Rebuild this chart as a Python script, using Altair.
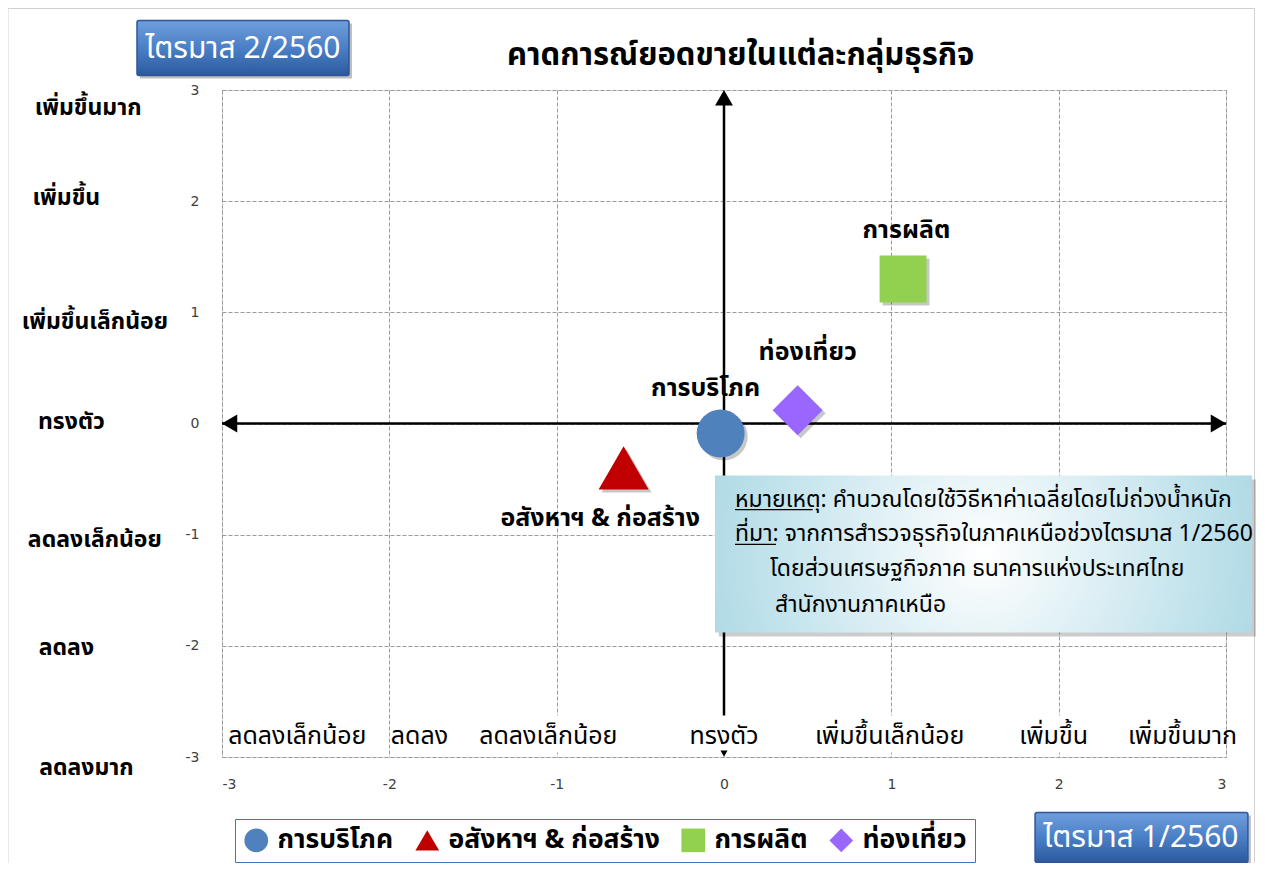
import altair as alt
import pandas as pd

FONT = "Tahoma, Noto Sans Thai, Loma, Garuda, Noto Sans, sans-serif"

# ---- data series ----
series = ["การบริโภค", "อสังหาฯ & ก่อสร้าง", "การผลิต", "ท่องเที่ยว"]
x_vals = [-0.02, -0.6, 1.07, 0.44]
y_vals = [-0.09, -0.4, 1.3, 0.12]
colors = ["#4f81bd", "#c00000", "#92d050", "#9966ff"]
shapes = ["circle", "triangle-up", "square", "diamond"]
sizes = [2300, 2500, 2200, 2500]
label_x = [-0.11, -0.74, 1.09, 0.50]
label_y = [0.315, -0.85, 1.74, 0.64]

tick_values = [-3, -2, -1, 0, 1, 2, 3]

ycat_text = ["เพิ่มขึ้นมาก", "เพิ่มขึ้น", "เพิ่มขึ้นเล็กน้อย", "ทรงตัว", "ลดลงเล็กน้อย", "ลดลง", "ลดลงมาก"]
ycat_x = [-3.80, -3.93, -3.76, -3.90, -3.76, -3.93, -3.81]
ycat_y = [2.84, 2.03, 0.91, 0.01, -1.05, -2.02, -3.10]

xcat_text = ["ลดลงเล็กน้อย", "ลดลง", "ลดลงเล็กน้อย", "ทรงตัว", "เพิ่มขึ้นเล็กน้อย", "เพิ่มขึ้น", "เพิ่มขึ้นมาก"]
xcat_x = [-2.55, -1.82, -1.05, 0.0, 0.99, 1.97, 2.74]
xcat_y = [-2.81] * 7
xcat_bg_x = [-2.976, -1.99, -1.482, -0.227, 0.520, 1.733, 2.373]
xcat_bg_x2 = [-2.080, -1.626, -0.610, 0.239, 1.482, 2.211, 2.988]
xcat_bg_y = [-2.627] * 7
xcat_bg_y2 = [-2.96] * 7

title_text = "คาดการณ์ยอดขายในแต่ละกลุ่มธุรกิจ"
title_pos = [0.10, 3.31]

note_lines = ["หมายเหตุ: คำนวณโดยใช้วิธีหาค่าเฉลี่ยโดยไม่ถ่วงน้ำหนัก",
              "ที่มา: จากการสำรวจธุรกิจในภาคเหนือช่วงไตรมาส 1/2560",
              "โดยส่วนเศรษฐกิจภาค ธนาคารแห่งประเทศไทย",
              "สำนักงานภาคเหนือ"]
note_x = [0.066, 0.066, 0.275, 0.305]
note_y = [-0.747, -1.059, -1.376, -1.697]
note_box = [-0.054, 3.155, -0.468, -1.880]
underline_x = [0.066, 0.066]
underline_x2 = [0.530, 0.311]
underline_y = [-0.775, -1.087]

box_text = ["ไตรมาส 2/2560", "ไตรมาส 1/2560"]
box_x = [-3.508, 1.859]
box_x2 = [-2.241, 3.131]
box_y = [3.625, -3.499]
box_y2 = [3.130, -3.949]
box_tx = [-2.875, 2.492]
box_ty = [3.373, -3.728]

frame = [-4.279, 3.170, 3.733, -3.960]

# ---- scales / axes ----
XS = alt.Scale(domain=[-3, 3], nice=False, zero=False)
YS = alt.Scale(domain=[-3, 3], nice=False, zero=False)
axis_common = dict(grid=True, gridColor="#9a9a9a", gridDash=[4, 2], gridWidth=1,
                   domain=False, ticks=False, title=None, values=tick_values,
                   labelExpr="toString(datum.value)",
                   labelFont="DejaVu Sans", labelFontSize=14, labelColor="#404040")
AX = alt.Axis(labelPadding=20, **axis_common)
AY = alt.Axis(labelPadding=23, **axis_common)


def X(f):
    return alt.X(f, type="quantitative", scale=XS, axis=AX, title=None)


def Y(f):
    return alt.Y(f, type="quantitative", scale=YS, axis=AY, title=None)


pts = pd.DataFrame({"series": series, "x": x_vals, "y": y_vals,
                    "size": sizes, "lx": label_x, "ly": label_y})

# outer frame (stroke only)
frame_df = pd.DataFrame({"x": [frame[0]], "x2": [frame[1]], "y": [frame[2]], "y2": [frame[3]]})
frame_layer = alt.Chart(frame_df).mark_rect(filled=False, stroke="#d0d0d0", strokeWidth=1).encode(
    x=X("x"), x2="x2", y=Y("y"), y2="y2")

# arrows
hline_df = pd.DataFrame({"x": [-3.0], "x2": [3.0], "y": [0.0]})
vline_df = pd.DataFrame({"x": [0.0], "y": [-2.9], "y2": [2.95]})
hline = alt.Chart(hline_df).mark_rule(color="black", strokeWidth=2.5).encode(x=X("x"), x2="x2", y=Y("y"))
vline = alt.Chart(vline_df).mark_rule(color="black", strokeWidth=2.5).encode(x=X("x"), y=Y("y"), y2="y2")
head_x = [2.955, -2.955, 0.0, 0.0]
head_y = [0.0, 0.0, 2.93, -2.97]
head_shape = ["triangle-right", "triangle-left", "triangle-up", "triangle-down"]
head_size = [320, 320, 320, 50]
heads = []
for hx, hy, hs, hz in zip(head_x, head_y, head_shape, head_size):
    hdf = pd.DataFrame({"x": [hx], "y": [hy]})
    heads.append(alt.Chart(hdf).mark_point(filled=True, color="black", opacity=1, strokeWidth=0,
                                           shape=hs, size=hz).encode(x=X("x"), y=Y("y")))

# category labels
ycat_df = pd.DataFrame({"t": ycat_text, "x": ycat_x, "y": ycat_y})
ycat = alt.Chart(ycat_df).mark_text(font=FONT, fontSize=23, fontWeight="bold", color="black",
                                    align="center", baseline="middle").encode(x=X("x"), y=Y("y"), text="t:N")
xcat_bg_df = pd.DataFrame({"x": xcat_bg_x, "x2": xcat_bg_x2, "y": xcat_bg_y, "y2": xcat_bg_y2})
xcat_bg = alt.Chart(xcat_bg_df).mark_rect(color="white").encode(x=X("x"), x2="x2", y=Y("y"), y2="y2")
xcat_df = pd.DataFrame({"t": xcat_text, "x": xcat_x, "y": xcat_y})
xcat = alt.Chart(xcat_df).mark_text(font=FONT, fontSize=25, color="black",
                                    align="center", baseline="middle").encode(x=X("x"), y=Y("y"), text="t:N")

# title
title_df = pd.DataFrame({"t": [title_text], "x": [title_pos[0]], "y": [title_pos[1]]})
title_layer = alt.Chart(title_df).mark_text(font=FONT, fontSize=31, fontWeight="bold", color="black",
                                            align="center", baseline="middle").encode(
    x=X("x"), y=Y("y"), text="t:N")

# blue boxes
box_df = pd.DataFrame({"t": box_text, "x": box_x, "x2": box_x2, "y": box_y, "y2": box_y2,
                       "tx": box_tx, "ty": box_ty})
blue_grad = alt.LinearGradient(gradient="linear", x1=0, y1=0, x2=0, y2=1,
                               stops=[alt.GradientStop(offset=0, color="#6f9fdc"),
                                      alt.GradientStop(offset=0.5, color="#4a7fc6"),
                                      alt.GradientStop(offset=1, color="#2b5a9e")])
box_shadow = alt.Chart(box_df).mark_rect(color="#000000", opacity=0.25, xOffset=3, yOffset=3,
                                         x2Offset=3, y2Offset=3).encode(x=X("x"), x2="x2", y=Y("y"), y2="y2")
boxes = alt.Chart(box_df).mark_rect(fill=blue_grad, stroke="#2f5597", strokeWidth=1.5, cornerRadius=2).encode(
    x=X("x"), x2="x2", y=Y("y"), y2="y2")
box_txt = alt.Chart(box_df).mark_text(font=FONT, fontSize=30, color="white", align="center",
                                      baseline="middle").encode(x=X("tx"), y=Y("ty"), text="t:N")

# marker shadows (one layer per shape, constant shape)
shadows = []
for s, shp, sz in zip(series, shapes, sizes):
    sdf = pts[pts["series"] == s][["x", "y"]]
    shadows.append(alt.Chart(sdf).mark_point(filled=True, color="#000000", opacity=0.22, strokeWidth=0,
                                             shape=shp, size=sz, xOffset=3, yOffset=3).encode(
        x=X("x"), y=Y("y")))

markers = alt.Chart(pts).mark_point(filled=True, opacity=1, strokeWidth=0).encode(
    x=X("x"), y=Y("y"),
    color=alt.Color("series:N", scale=alt.Scale(domain=series, range=colors),
                    legend=alt.Legend(title=None, orient="none", legendX=13, legendY=729,
                                      direction="horizontal", symbolSize=560,
                                      labelFont=FONT, labelFontSize=26.5, labelFontWeight="bold",
                                      labelColor="black",
                                      strokeColor="#4472c4", fillColor="white", padding=8,
                                      columnPadding=20, labelOffset=8, labelLimit=400)),
    shape=alt.Shape("series:N", scale=alt.Scale(domain=series, range=shapes)),
    size=alt.Size("size:Q", scale=alt.Scale(domain=[0, 3000], range=[0, 3000]), legend=None),
)
labels = alt.Chart(pts).mark_text(font=FONT, fontSize=25, fontWeight="bold", color="black",
                                  align="center", baseline="middle").encode(
    x=X("lx"), y=Y("ly"), text="series:N")

# annotation box
note_box_df = pd.DataFrame({"x": [note_box[0]], "x2": [note_box[1]], "y": [note_box[2]], "y2": [note_box[3]]})
note_grad = alt.RadialGradient(gradient="radial", x1=0.5, y1=0.5, r1=0, x2=0.5, y2=0.5, r2=0.75,
                               stops=[alt.GradientStop(offset=0, color="#ffffff"),
                                      alt.GradientStop(offset=1, color="#8ccadb")])
note_shadow = alt.Chart(note_box_df).mark_rect(color="#000000", opacity=0.2, xOffset=4, yOffset=4,
                                               x2Offset=4, y2Offset=4).encode(
    x=X("x"), x2="x2", y=Y("y"), y2="y2")
note_rect = alt.Chart(note_box_df).mark_rect(fill=note_grad).encode(x=X("x"), x2="x2", y=Y("y"), y2="y2")
note_df = pd.DataFrame({"t": note_lines, "x": note_x, "y": note_y})
note_txt = alt.Chart(note_df).mark_text(font=FONT, fontSize=23, color="black", align="left",
                                        baseline="alphabetic").encode(x=X("x"), y=Y("y"), text="t:N")
ul_df = pd.DataFrame({"x": underline_x, "x2": underline_x2, "y": underline_y})
underlines = alt.Chart(ul_df).mark_rule(color="black", strokeWidth=1.2).encode(x=X("x"), x2="x2", y=Y("y"))

chart = alt.layer(
    frame_layer, box_shadow, boxes, box_txt, title_layer,
    hline, vline, ycat, xcat_bg, xcat, *heads,
    *shadows, markers, labels,
    note_shadow, note_rect, note_txt, underlines,
).properties(
    width=1004, height=667,
    autosize=alt.AutoSizeParams(type="none"),
    padding={"left": 214, "top": 82, "right": 30, "bottom": 106},
).configure_view(
    stroke="#9a9a9a", strokeDash=[4, 2], strokeWidth=1
).configure(background="white")

chart.save("out.html", embed_options={"renderer": "svg", "actions": False})
